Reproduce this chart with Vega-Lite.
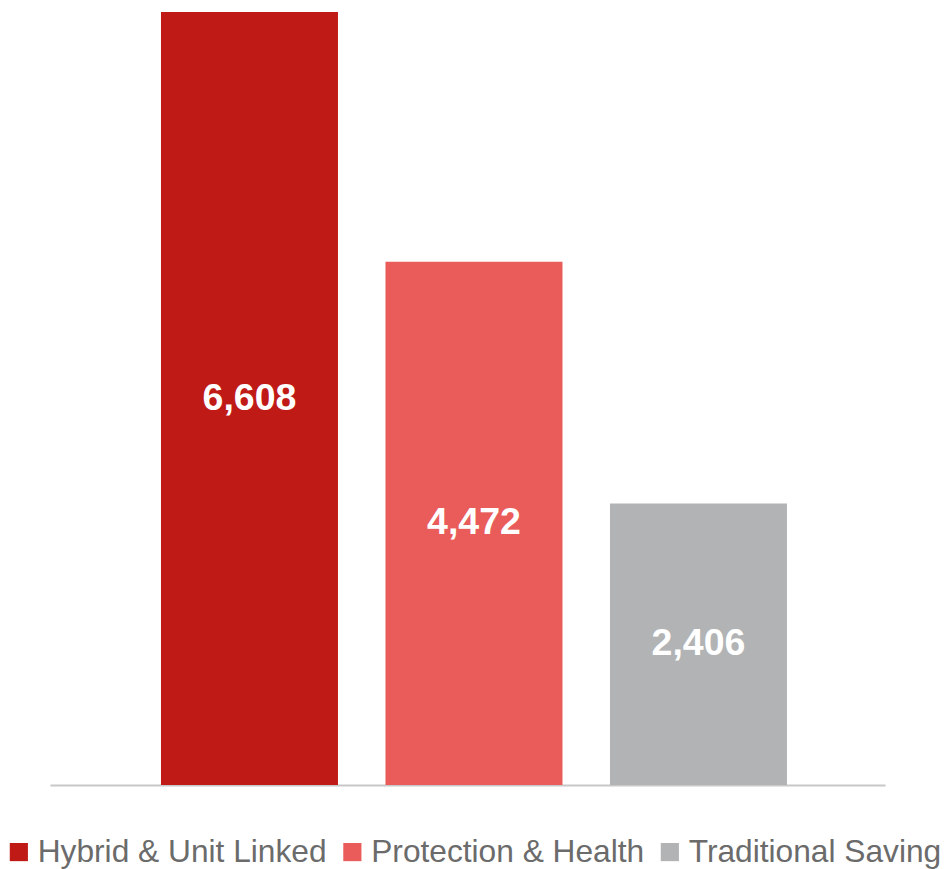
{
  "$schema": "https://vega.github.io/schema/vega-lite/v6.json",
  "width": 835,
  "height": 773,
  "autosize": {"type": "none"},
  "padding": {"left": 50, "top": 12, "right": 66, "bottom": 84},
  "background": "white",
  "config": {"view": {"stroke": null}, "font": "Liberation Sans"},
  "data": {
    "values": [
      {"category": "Hybrid & Unit Linked", "value": 6608},
      {"category": "Protection & Health", "value": 4472},
      {"category": "Traditional Saving", "value": 2406}
    ]
  },
  "encoding": {
    "x": {
      "field": "category",
      "type": "nominal",
      "sort": null,
      "scale": {"paddingInner": 0.2116, "paddingOuter": 0.4655, "align": 0.531},
      "axis": {"title": null, "labels": false, "ticks": false, "domainColor": "#c8c8c8", "domainWidth": 2, "grid": false}
    }
  },
  "layer": [
    {
      "mark": {"type": "bar"},
      "encoding": {
        "y": {"field": "value", "type": "quantitative", "scale": {"domain": [0, 6608], "nice": false}, "axis": null},
        "color": {
          "field": "category",
          "type": "nominal",
          "sort": null,
          "scale": {"range": ["#C01A17", "#E95C59", "#B2B3B5"]},
          "legend": {
            "orient": "none",
            "legendX": -47,
            "legendY": 824,
            "direction": "horizontal",
            "title": null,
            "symbolType": "square",
            "symbolSize": 330,
            "symbolStrokeWidth": 0,
            "labelFontSize": 31.7,
            "labelColor": "#6b6b6b",
            "labelOffset": 3,
            "columnPadding": 9.5,
            "labelLimit": 500
          }
        }
      }
    },
    {
      "mark": {"type": "text", "color": "white", "fontSize": 37.5, "fontWeight": "bold", "baseline": "middle", "align": "center"},
      "encoding": {
        "y": {"field": "value", "type": "quantitative", "scale": {"domain": [0, 13216], "nice": false}, "axis": null},
        "text": {"field": "value", "type": "quantitative", "format": ","}
      }
    }
  ],
  "resolve": {"scale": {"y": "independent"}}
}
